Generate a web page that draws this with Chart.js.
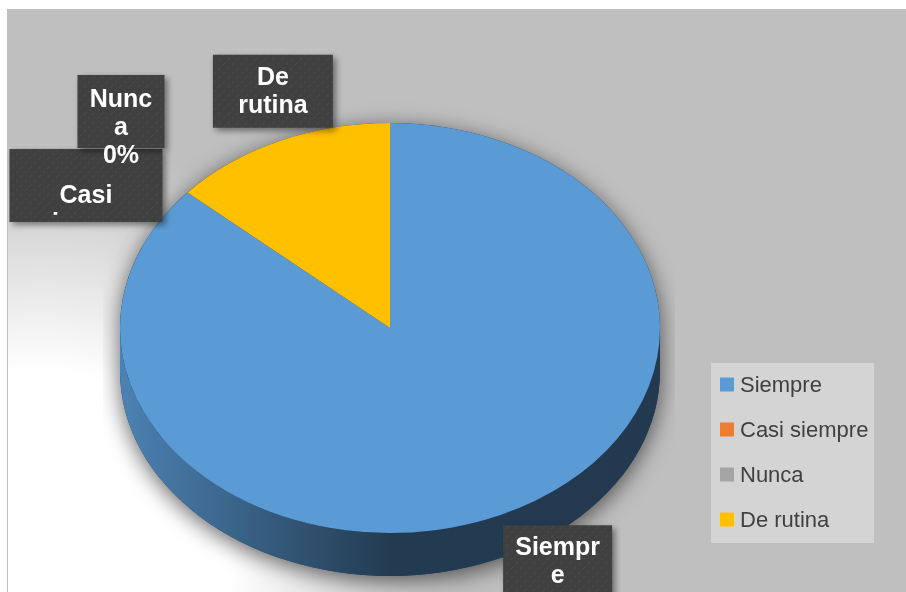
<!DOCTYPE html>
<html><head><meta charset="utf-8">
<script src="https://cdn.jsdelivr.net/npm/chart.js@4.4.1/dist/chart.umd.min.js"></script>
<style>html,body{margin:0;padding:0;background:#fff;overflow:hidden}canvas{display:block}</style>
</head><body>
<canvas id="c" width="906" height="592"></canvas>
<script>
// ---- data ----
const categories = ['Siempre', 'Casi siempre', 'Nunca', 'De rutina'];
const values = [86.5, 0, 0, 13.5];
const colors = ['#5B9BD5', '#ED7D31', '#A5A5A5', '#FFC000'];

// ---- styling / layout ----
const GEOM = { cy: 328, k: 0.759, depth: 43 };
const labelStyle = [
  { dx: 56.5, dy: 47, w: 109, h: 73, base: 30, clip: true },
  { dx: -101.5, dy: -7, w: 153, h: 73, base: 54, clip: true },
  { dx: -66.5, dy: -81, w: 87, h: 73, base: 32, clip: false },
  { dx: -6, dy: -50, w: 120, h: 73, base: 30, clip: true }
];
const LEGEND = { x: 711, y: 363, w: 163, h: 180, first: 384.5, step: 45 };

function shade(hex, f) {
  const n = parseInt(hex.slice(1), 16);
  const r = Math.round(((n >> 16) & 255) * f), g = Math.round(((n >> 8) & 255) * f), b = Math.round((n & 255) * f);
  return `rgb(${r},${g},${b})`;
}
function wrap(ctx, text, maxW) {
  const words = text.split(' '); const lines = []; let cur = '';
  for (const w of words) {
    const test = cur ? cur + ' ' + w : w;
    if (ctx.measureText(test).width <= maxW) { cur = test; continue; }
    if (cur) { lines.push(cur); cur = ''; }
    if (ctx.measureText(w).width <= maxW) { cur = w; continue; }
    let part = '';
    for (const ch of w) {
      if (part && ctx.measureText(part + ch).width > maxW) { lines.push(part); part = ch; }
      else part += ch;
    }
    cur = part;
  }
  if (cur) lines.push(cur);
  return lines;
}

const total = values.reduce((a, b) => a + b, 0);
const pctLabels = values.map(v => Math.round(v / total * 100) + '%');

const pie3d = {
  id: 'pie3d',
  beforeDraw(chart) {
    const ctx = chart.ctx;
    ctx.save();
    ctx.fillStyle = '#fff'; ctx.fillRect(0, 0, 906, 592);
    const g = ctx.createRadialGradient(40, 560, 0, 40, 560, 420);
    g.addColorStop(0, '#ffffff'); g.addColorStop(0.45, '#ffffff'); g.addColorStop(1, '#bfbfbf');
    ctx.fillStyle = g; ctx.fillRect(7, 9, 899, 583);
    ctx.fillStyle = '#bfbfbf'; ctx.fillRect(7, 9, 1, 583);
    ctx.restore();
  },
  beforeDatasetsDraw(chart) {
    const ctx = chart.ctx;
    const meta = chart.getDatasetMeta(0);
    const p0 = meta.data[0].getProps(['x', 'y', 'outerRadius'], true);
    const cx = p0.x, cy = p0.y, r = p0.outerRadius;
    ctx.save();
    ctx.beginPath(); ctx.rect(103, 100, 572, 492); ctx.clip();
    ctx.translate(0, GEOM.cy); ctx.scale(1, GEOM.k); ctx.translate(0, -cy);
    const D = GEOM.depth / GEOM.k;
    ctx.save();
    ctx.shadowColor = 'rgba(0,0,0,0.6)'; ctx.shadowBlur = 22; ctx.shadowOffsetY = 5;
    ctx.beginPath(); ctx.arc(cx, cy, r, Math.PI, 2 * Math.PI); ctx.arc(cx, cy + D, r, 0, Math.PI); ctx.closePath();
    ctx.fillStyle = '#223a52'; ctx.fill();
    ctx.restore();
    meta.data.forEach((el, i) => {
      const p = el.getProps(['startAngle', 'endAngle'], true);
      for (let k = -1; k <= 1; k++) {
        const lo = Math.max(p.startAngle, 2 * Math.PI * k), hi = Math.min(p.endAngle, 2 * Math.PI * k + Math.PI);
        if (hi > lo) {
          const gr = ctx.createLinearGradient(cx - r, 0, cx + r, 0);
          gr.addColorStop(0, shade(colors[i], 0.84));
          gr.addColorStop(0.5, shade(colors[i], 0.38));
          gr.addColorStop(1, shade(colors[i], 0.37));
          ctx.fillStyle = gr;
          ctx.beginPath(); ctx.arc(cx, cy, r, lo, hi); ctx.arc(cx, cy + D, r, hi, lo, true); ctx.closePath(); ctx.fill();
        }
      }
    });
  },
  afterDatasetsDraw(chart) { chart.ctx.restore(); },
  afterDraw(chart) {
    const ctx = chart.ctx;
    const meta = chart.getDatasetMeta(0);
    const pc = document.createElement('canvas'); pc.width = 9; pc.height = 9;
    const pg = pc.getContext('2d');
    pg.fillStyle = '#404040'; pg.fillRect(0, 0, 9, 9);
    pg.fillStyle = 'rgba(255,255,255,0.06)';
    pg.fillRect(2, 6, 1, 1); pg.fillRect(3, 5, 1, 1); pg.fillRect(4, 4, 1, 1);
    pg.fillRect(7, 1, 1, 1); pg.fillRect(8, 0, 1, 1);
    const pat = ctx.createPattern(pc, 'repeat');

    const boxes = meta.data.map((el, i) => {
      const p = el.getProps(['x', 'y', 'outerRadius', 'startAngle', 'endAngle'], true);
      const m = (p.startAngle + p.endAngle) / 2;
      const ax = p.x + p.outerRadius * Math.cos(m);
      const ay = GEOM.cy + GEOM.k * p.outerRadius * Math.sin(m);
      const s = labelStyle[i];
      return { x: ax + s.dx - s.w / 2, y: ay + s.dy - s.h / 2, s };
    });
    boxes.forEach(b => {
      ctx.save();
      ctx.shadowColor = 'rgba(0,0,0,0.45)'; ctx.shadowBlur = 6; ctx.shadowOffsetX = 3; ctx.shadowOffsetY = 3;
      ctx.fillStyle = pat;
      ctx.fillRect(b.x, b.y, b.s.w, b.s.h);
      ctx.restore();
    });
    ctx.save();
    ctx.font = "bold 25px 'Liberation Sans', Arial, sans-serif";
    ctx.fillStyle = '#ffffff'; ctx.textAlign = 'center'; ctx.textBaseline = 'alphabetic';
    boxes.forEach((b, i) => {
      const lines = wrap(ctx, categories[i], b.s.w - 14).concat(wrap(ctx, pctLabels[i], b.s.w - 14));
      ctx.save();
      if (b.s.clip) { ctx.beginPath(); ctx.rect(b.x, b.y, b.s.w, b.s.h - 6); ctx.clip(); }
      lines.forEach((ln, j) => ctx.fillText(ln, b.x + b.s.w / 2, b.y + b.s.base + j * 28));
      ctx.restore();
    });
    ctx.restore();
    ctx.save();
    ctx.fillStyle = '#d4d4d4'; ctx.fillRect(LEGEND.x, LEGEND.y, LEGEND.w, LEGEND.h);
    ctx.font = "22px 'Liberation Sans', Arial, sans-serif";
    ctx.textAlign = 'left'; ctx.textBaseline = 'alphabetic';
    chart.data.labels.forEach((lab, i) => {
      const yc = LEGEND.first + i * LEGEND.step;
      ctx.fillStyle = chart.data.datasets[0].backgroundColor[i];
      ctx.fillRect(LEGEND.x + 9, yc - 7, 14, 14);
      ctx.fillStyle = '#404040';
      ctx.fillText(lab, LEGEND.x + 29, yc + 7.5);
    });
    ctx.restore();
  }
};

new Chart(document.getElementById('c'), {
  type: 'pie',
  data: {
    labels: categories,
    datasets: [{ data: values, backgroundColor: colors, borderWidth: 0, clip: false }]
  },
  options: {
    responsive: false, animation: false, devicePixelRatio: 1, events: [],
    layout: { padding: { left: 120, right: 246, top: 0, bottom: 0 } },
    plugins: { legend: { display: false }, tooltip: { enabled: false } }
  },
  plugins: [pie3d]
});
</script>
</body></html>
